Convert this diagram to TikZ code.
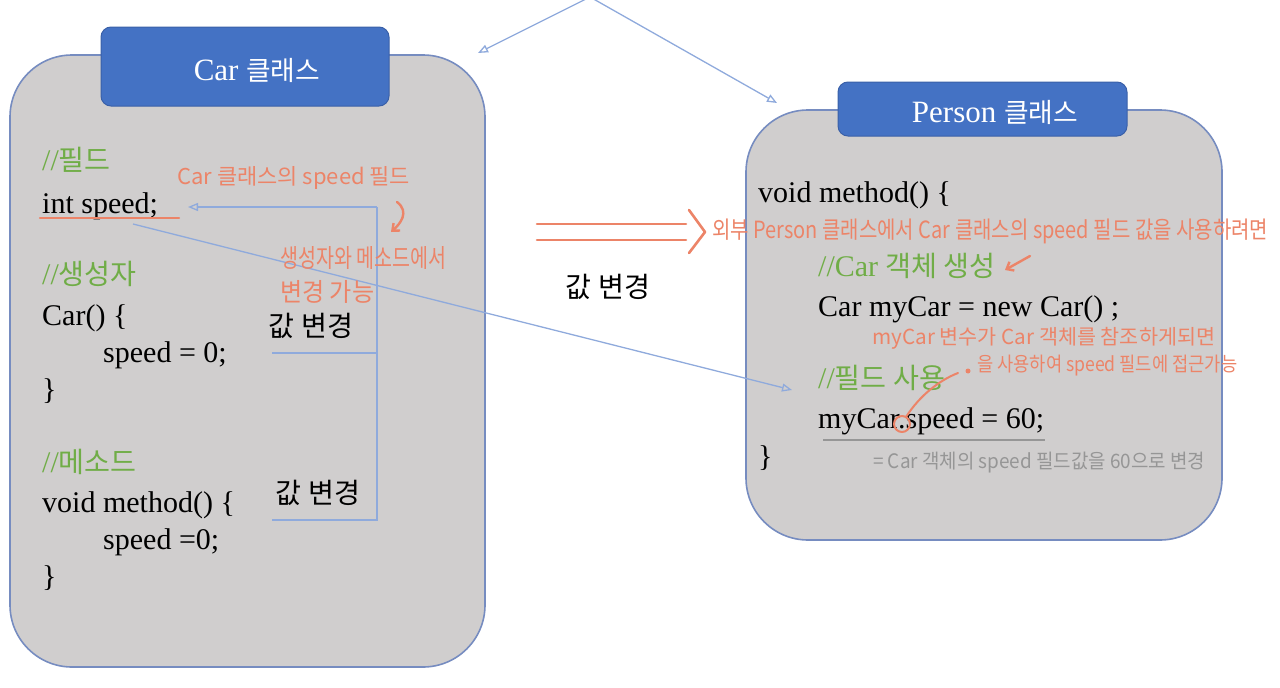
\documentclass[tikz,border=0pt]{standalone}
\usepackage{fontspec}
\usepackage{graphicx}
\setmainfont{Liberation Serif}
\newfontfamily\kr[Scale=0.94]{Noto Sans CJK KR}
\newfontfamily\hw{Noto Sans CJK KR}
\usetikzlibrary{arrows.meta}
\definecolor{boxfill}{RGB}{208,206,206}
\definecolor{boxline}{RGB}{118,140,192}
\definecolor{hdr}{RGB}{68,114,196}
\definecolor{hdrline}{RGB}{58,96,168}
\definecolor{connc}{RGB}{143,170,220}
\definecolor{pen}{RGB}{236,132,104}
\definecolor{cmtgreen}{RGB}{112,173,71}
\definecolor{pencil}{RGB}{150,150,150}
\newcommand{\hdrkr}[1]{{\fontsize{28.5}{32}\selectfont\kr #1}}
\tikzset{
  codetext/.style={anchor=base west, inner sep=0pt, font=\fontsize{30}{36}\selectfont, text=black},
  cmttext/.style={codetext, text=cmtgreen},
  krlabel/.style={inner sep=0pt, font=\kr\fontsize{30}{36}\selectfont, text=black},
  hdrbox/.style={fill=hdr, draw=hdrline, line width=1pt, rounded corners=10pt},
  hdrtext/.style={inner sep=0pt, text=white, font=\fontsize{31}{34}\selectfont},
  classbox/.style={fill=boxfill, draw=boxline, line width=1.6pt, rounded corners=62pt},
  conn/.style={draw=connc, line width=1.3pt},
  connarrow/.style={conn, -{Triangle[open, length=10pt, width=8pt]}},
  pennote/.style={anchor=west, inner sep=0pt, text=pen, font=\hw},
  pencilnote/.style={anchor=west, inner sep=0pt, text=pencil, font=\hw},
  penline/.style={draw=pen, line width=2.4pt, line cap=round, line join=round},
}
\begin{document}
\begin{tikzpicture}[x=1pt,y=-1pt]
\useasboundingbox (0,0) rectangle (1280,688);
% class boxes
\node[classbox, minimum width=475pt, minimum height=612pt] (carbox) at (247.5,361) {};
\node[classbox, minimum width=476pt, minimum height=430pt] (personbox) at (984,325) {};
\node[hdrbox, minimum width=288pt, minimum height=79pt] (carhdr) at (245,66.5) {};
\node[hdrbox, minimum width=289pt, minimum height=54pt] (personhdr) at (982.5,109) {};
\node[hdrtext] (carhdrtxt) at (257,70) {Car \hdrkr{클래스}};
\node[hdrtext] (personhdrtxt) at (995,112) {Person \hdrkr{클래스}};

% top arrows
\coordinate (topsrc) at (590,-3);
\coordinate (cartip) at (478,53);
\coordinate (persontip) at (777,103);
\draw[connarrow] (topsrc) -- (cartip);
\draw[connarrow] (topsrc) -- (persontip);

% Car class code
\node[cmttext] (c1) at (42,170) {//{\kr 필드}};
\node[codetext] (c2) at (42,213) {int speed;};
\node[cmttext] (c3) at (42,284) {//{\kr 생성자}};
\node[codetext] (c4) at (42,325) {Car() \{};
\node[codetext] (c5) at (103,362) {speed = 0;};
\node[codetext] (c6) at (42,399) {\}};
\node[cmttext] (c7) at (42,472) {//{\kr 메소드}};
\node[codetext] (c8) at (42,512) {void method() \{};
\node[codetext] (c9) at (103,549) {speed =0;};
\node[codetext] (c10) at (42,586) {\}};

% underline int speed
\coordinate (ul1a) at (40,218);
\coordinate (ul1b) at (179,218);
\draw[penline] (ul1a) -- (ul1b);

% bracket connectors in Car class
\coordinate (vtop) at (377,207);
\coordinate (vmid) at (377,353);
\coordinate (vbot) at (377,520);
\coordinate (ftip) at (188,207);
\coordinate (midend) at (272,353);
\coordinate (botend) at (272,520);
\draw[conn] (midend) -- (vmid);
\draw[conn] (botend) -- (vbot) -- (vtop);
\draw[connarrow] (vtop) -- (ftip);
\node[krlabel] (chg1) at (311,326) {값 변경};
\node[krlabel] (chg2) at (318,493) {값 변경};

% Person class code
\node[codetext] (p1) at (758,202) {void method() \{};
\node[cmttext] (p2) at (818,276) {//Car {\kr 객체 생성}};
\node[codetext] (p3) at (818,316) {Car myCar = new Car() ;};
\node[cmttext] (p4) at (818,388) {//{\kr 필드 사용}};
\node[codetext] (p5) at (818,428) {myCar.speed = 60;};
\node[codetext] (p6) at (758,466) {\}};
\coordinate (ul2a) at (823,440);
\coordinate (ul2b) at (1045,440);
\draw[draw=pencil, line width=2.4pt] (ul2a) -- (ul2b);

% diagonal connector
\coordinate (dstart) at (133,224);
\coordinate (dend) at (792,390);
\draw[connarrow] (dstart) -- (dend);

% middle double arrow
\coordinate (da1) at (537,224);
\coordinate (da2) at (686,224);
\coordinate (db1) at (537,240);
\coordinate (db2) at (686,240);
\coordinate (chv1) at (689,210);
\coordinate (chv2) at (705,232);
\coordinate (chv3) at (689,253);
\draw[penline, line width=2.6pt] (da1) -- (da2);
\draw[penline, line width=2.6pt] (db1) -- (db2);
\draw[penline, line width=2.6pt] (chv1) -- (chv2) -- (chv3);
\node[krlabel] (chg3) at (608,287) {값 변경};

% handwritten notes
\node[pennote] (n1) at (177,178) {\resizebox*{233pt}{23pt}{Car 클래스의 speed 필드}};
\node[pennote] (n2) at (280,258) {\resizebox*{166pt}{23pt}{생성자와 메소드에서}};
\node[pennote] (n3) at (280,292) {\resizebox*{94pt}{23pt}{변경 가능}};
\node[pennote] (n4) at (712,231) {\resizebox*{556pt}{25pt}{외부 Person 클래스에서 Car 클래스의 speed 필드 값을 사용하려면}};
\node[pennote] (n5) at (872,338) {\resizebox*{343pt}{22pt}{myCar 변수가 Car 객체를 참조하게되면}};
\node[pennote] (n6) at (977,366) {\resizebox*{260pt}{21pt}{을 사용하여 speed 필드에 접근가능}};
\node[pencilnote] (n7) at (873,463) {\resizebox*{332pt}{21pt}{= Car 객체의 speed 필드값을 60으로 변경}};

% hand-drawn arrows
\coordinate (h1a) at (397,202);
\coordinate (h1b) at (391,232);
\draw[penline, -{Straight Barb[length=6pt, width=10pt]}] (h1a) .. controls (410,212) and (400,224) .. (h1b);
\coordinate (h2a) at (1030,256);
\coordinate (h2b) at (1005,270);
\draw[penline, -{Straight Barb[length=6pt, width=10pt]}] (h2a) -- (h2b);
\coordinate (dotc) at (902,424);
\coordinate (dotpt) at (968,371);
\draw[penline, line width=2pt] (dotc) circle (8pt);
\draw[penline, line width=2pt] (906,417) .. controls (920,395) and (940,380) .. (958,373);
\fill[pen] (dotpt) circle (2.5pt);
\end{tikzpicture}
\end{document}
